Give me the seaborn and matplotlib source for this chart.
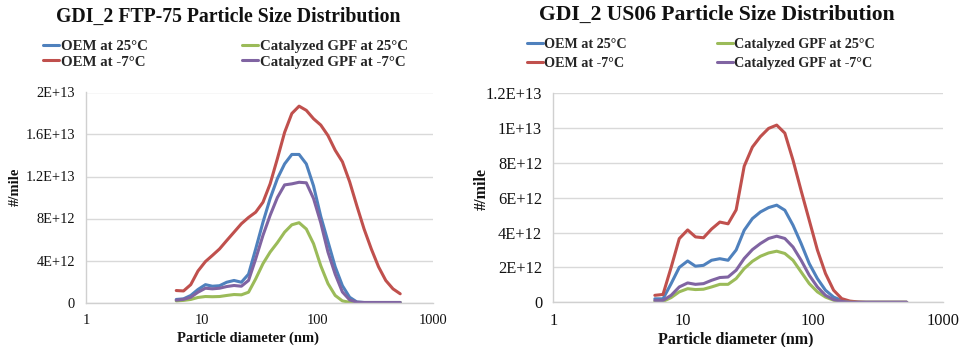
import matplotlib
matplotlib.use("Agg")
import matplotlib.pyplot as plt
import matplotlib.ticker as mticker
import numpy as np
import pandas as pd
import seaborn as sns

# Particle diameters (nm) - EEPS channel midpoints
diam = [6.04, 6.98, 8.06, 9.31, 10.8, 12.4, 14.3, 16.5, 19.1, 22.1, 25.5, 29.4,
        34.0, 39.2, 45.3, 52.3, 60.4, 69.8, 80.6, 93.1, 107.5, 124.1, 143.3,
        165.5, 191.1, 220.7, 254.8, 294.3, 339.8, 392.4, 453.2, 523.3]

series_names = ["OEM at 25°C", "OEM at -7°C", "Catalyzed GPF at 25°C", "Catalyzed GPF at -7°C"]

# FTP-75 values (x 1E12 #/mile)
ftp_oem_25 = [0.29, 0.35, 0.67, 1.24, 1.7, 1.55, 1.6, 1.93, 2.1, 1.93, 2.7, 5.1, 7.65, 9.9,
              11.8, 13.2, 14.1, 14.1, 13.2, 11.1, 8.2, 5.8, 3.4, 1.6, 0.5, 0.05, 0, 0, 0, 0, 0, 0]
ftp_oem_m7 = [1.14, 1.1, 1.7, 3.0, 3.9, 4.48, 5.1, 5.9, 6.7, 7.5, 8.1, 8.6, 9.55, 11.3, 13.7,
              16.2, 18.0, 18.7, 18.3, 17.5, 16.9, 15.9, 14.5, 13.4, 11.5, 9.2, 7.0, 5.1, 3.4,
              2.1, 1.3, 0.83]
ftp_gpf_25 = [0.15, 0.2, 0.29, 0.48, 0.57, 0.55, 0.57, 0.67, 0.76, 0.73, 0.98, 2.25, 3.7, 4.8,
              5.7, 6.7, 7.4, 7.6, 7.0, 5.6, 3.5, 1.8, 0.67, 0.15, 0.02, 0, 0, 0, 0, 0, 0, 0]
ftp_gpf_m7 = [0.22, 0.3, 0.5, 0.98, 1.36, 1.3, 1.36, 1.52, 1.62, 1.55, 2.1, 4.15, 6.4, 8.3,
              10.0, 11.2, 11.3, 11.45, 11.4, 9.9, 7.6, 4.8, 2.7, 1.0, 0.25, 0.03, 0, 0, 0, 0, 0, 0]

# US06 values (x 1E12 #/mile)
us06_oem_25 = [0.2, 0.2, 1.07, 2.0, 2.37, 2.07, 2.12, 2.41, 2.5, 2.41, 3.0, 4.13, 4.8, 5.18,
               5.43, 5.57, 5.28, 4.42, 3.37, 2.22, 1.36, 0.69, 0.3, 0.1, 0.03, 0, 0, 0, 0, 0, 0, 0]
us06_oem_m7 = [0.4, 0.45, 2.0, 3.65, 4.15, 3.75, 3.7, 4.2, 4.6, 4.5, 5.3, 7.8, 8.9, 9.5, 9.97,
               10.16, 9.7, 8.15, 6.4, 4.7, 3.0, 1.65, 0.69, 0.21, 0.07, 0.02, 0, 0, 0, 0, 0, 0]
us06_gpf_25 = [0.05, 0.05, 0.27, 0.6, 0.78, 0.73, 0.75, 0.88, 1.03, 1.03, 1.36, 1.93, 2.35, 2.64,
               2.83, 2.93, 2.8, 2.41, 1.74, 1.07, 0.6, 0.3, 0.12, 0.04, 0, 0, 0, 0, 0, 0, 0, 0]
us06_gpf_m7 = [0.11, 0.11, 0.4, 0.88, 1.11, 1.03, 1.07, 1.26, 1.42, 1.45, 1.84, 2.51, 3.02, 3.37,
               3.66, 3.79, 3.66, 3.17, 2.41, 1.55, 0.88, 0.4, 0.15, 0.05, 0, 0, 0, 0, 0, 0, 0, 0]

x_ticks = [1, 10, 100, 1000]
x_tick_labels = ["1", "10", "100", "1000"]
ftp_y_ticks = [0, 4e12, 8e12, 1.2e13, 1.6e13, 2e13]
ftp_y_labels = ["0", "4E+12", "8E+12", "1.2E+13", "1.6E+13", "2E+13"]
us06_y_ticks = [0, 2e12, 4e12, 6e12, 8e12, 1e13, 1.2e13]
us06_y_labels = ["0", "2E+12", "4E+12", "6E+12", "8E+12", "1E+13", "1.2E+13"]

colors = ["#4F81BD", "#C0504D", "#9BBB59", "#8064A2"]

sns.set_theme(style="white")
plt.rcParams["font.family"] = ["Liberation Serif", "DejaVu Serif"]


def make_df(vals):
    rows = []
    for name, v in zip(series_names, vals):
        for d, y in zip(diam, v):
            rows.append({"diam": d, "value": y * 1e12, "series": name})
    return pd.DataFrame(rows)


fig = plt.figure(figsize=(9.63, 3.47), dpi=100)
W, H = 963, 347

def axes_px(x0, x1, y0, y1):
    return fig.add_axes([x0 / W, 1 - y1 / H, (x1 - x0) / W, (y1 - y0) / H])

ax1 = axes_px(86, 432.7, 92.5, 302.5)
ax2 = axes_px(553.3, 943.3, 93, 302.3)

configs = [
    dict(ax=ax1, vals=[ftp_oem_25, ftp_oem_m7, ftp_gpf_25, ftp_gpf_m7], yt=ftp_y_ticks,
         ytl=ftp_y_labels, title="GDI_2 FTP-75 Particle Size Distribution", tx=228, ty=17,
         tsize=14.2, lpos=(43, 40), lsize=10.75, lspace=0.12, colsp=6.3, ylc=(-0.185, 0.55),
         xlc=(0.467, -0.14), ticksize=10.4, labsize=10.5),
    dict(ax=ax2, vals=[us06_oem_25, us06_oem_m7, us06_gpf_25, us06_gpf_m7], yt=us06_y_ticks,
         ytl=us06_y_labels, title="GDI_2 US06 Particle Size Distribution", tx=717, ty=15,
         tsize=15.6, lpos=(527, 38), lsize=10.2, lspace=0.45, colsp=6.4, ylc=(-0.162, 0.54),
         xlc=(0.467, -0.14), ticksize=11.8, labsize=11.5),
]

for c in configs:
    ax = c["ax"]
    df = make_df(c["vals"])
    sns.lineplot(data=df, x="diam", y="value", hue="series", hue_order=series_names,
                 palette=colors, linewidth=2.2, ax=ax, legend=False)
    ax.set_xscale("log")
    ax.set_xlim(1, 1000)
    ax.set_ylim(c["yt"][0], c["yt"][-1])
    ax.xaxis.set_major_locator(mticker.FixedLocator(x_ticks))
    ax.xaxis.set_major_formatter(mticker.FixedFormatter(x_tick_labels))
    ax.xaxis.set_minor_locator(mticker.NullLocator())
    ax.yaxis.set_major_locator(mticker.FixedLocator(c["yt"]))
    ax.yaxis.set_major_formatter(mticker.FixedFormatter(c["ytl"]))
    ax.grid(axis="y", color="#d9d9d9", linewidth=1)
    ax.grid(axis="x", visible=False)
    for s in ["top", "right"]:
        ax.spines[s].set_visible(False)
    for s in ["left", "bottom"]:
        ax.spines[s].set_color("#d0d0d0")
        ax.spines[s].set_linewidth(1)
    ax.tick_params(axis="both", which="major", direction="out", length=4, width=1,
                   color="#d0d0d0", labelsize=c["ticksize"], labelcolor="#111111", pad=4)
    ax.set_xlabel("Particle diameter (nm)", fontsize=c["labsize"], fontweight="bold",
                  color="#111111")
    ax.set_ylabel("#/mile", fontsize=c["labsize"], fontweight="bold", color="#111111")
    ax.xaxis.set_label_coords(*c["xlc"])
    ax.yaxis.set_label_coords(*c["ylc"])
    fig.text(c["tx"] / W, 1 - c["ty"] / H, c["title"], ha="center", va="center",
             fontsize=c["tsize"], fontweight="bold", color="#111111")
    handles = ax.get_lines()[:4]
    lp = c["lpos"]
    ax.legend(handles, series_names, loc="upper left",
              bbox_to_anchor=(lp[0] / W, 1 - lp[1] / H), bbox_transform=fig.transFigure,
              ncol=2, frameon=False, borderpad=0, borderaxespad=0, handlelength=1.1,
              handletextpad=0.1, columnspacing=c["colsp"], labelspacing=c["lspace"],
              prop={"family": "Liberation Serif", "weight": "bold", "size": c["lsize"]})

fig.savefig("out.png", dpi=100)
